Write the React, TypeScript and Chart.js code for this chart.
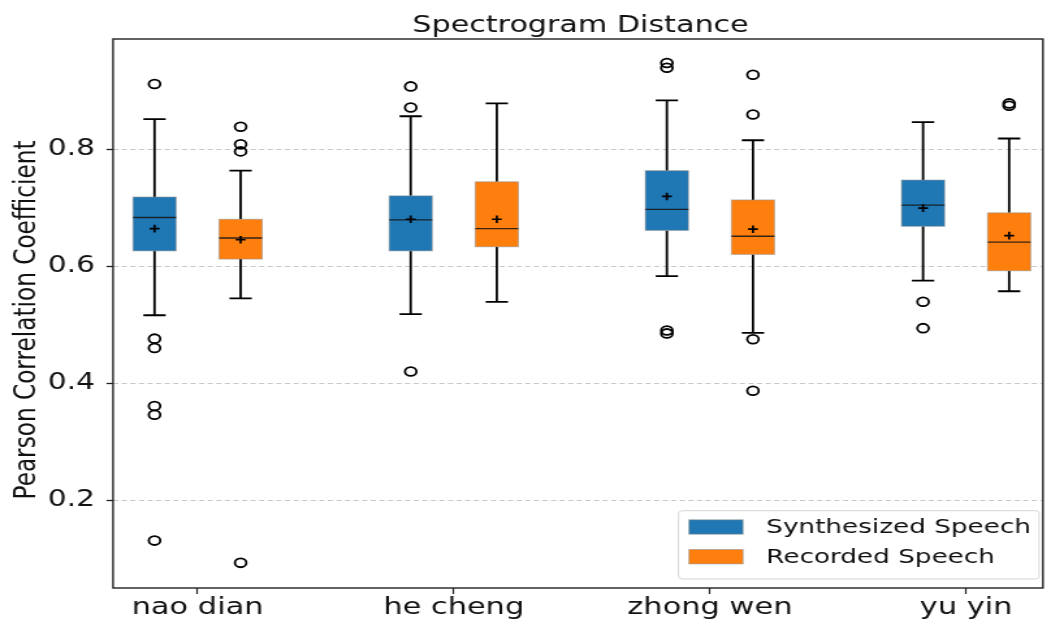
import React, { useEffect, useRef } from 'react';
import { Chart, registerables } from 'chart.js';

Chart.register(...registerables);

// ---------- data ----------
const categories = ['nao dian', 'he cheng', 'zhong wen', 'yu yin'];
const yTickValues = [0.2, 0.4, 0.6, 0.8];
const seriesNames = ['Synthesized Speech', 'Recorded Speech'];
const seriesColors = ['#1f77b4', '#ff7f0e'];

const synthWhiskerHigh = [0.851, 0.856, 0.883, 0.846];
const synthQ3 = [0.718, 0.72, 0.763, 0.747];
const synthMedian = [0.683, 0.679, 0.697, 0.704];
const synthMean = [0.664, 0.68, 0.719, 0.699];
const synthQ1 = [0.626, 0.626, 0.661, 0.668];
const synthWhiskerLow = [0.516, 0.518, 0.583, 0.575];
const synthOutliers = [
  [0.911, 0.476, 0.46, 0.361, 0.346, 0.131],
  [0.907, 0.871, 0.42],
  [0.947, 0.939, 0.49, 0.485],
  [0.539, 0.494],
];

const recWhiskerHigh = [0.763, 0.878, 0.815, 0.818];
const recQ3 = [0.68, 0.744, 0.713, 0.691];
const recMedian = [0.648, 0.664, 0.651, 0.641];
const recMean = [0.645, 0.68, 0.663, 0.652];
const recQ1 = [0.612, 0.633, 0.62, 0.592];
const recWhiskerLow = [0.545, 0.539, 0.486, 0.557];
const recOutliers = [
  [0.838, 0.808, 0.796, 0.093],
  [],
  [0.927, 0.859, 0.475, 0.387],
  [0.878, 0.874],
];

// ---------- layout / style constants ----------
const CANVAS_W = 808;
const CANVAS_H = 623;
const CSS_W = 1051;
const CSS_H = 623;
const GROUP_OFFSET = 0.168;
const BOX_WIDTH = 0.168;
const CAP_WIDTH = 0.087;
const FONT = "'DejaVu Sans', sans-serif";

export default function App() {
  const canvasRef = useRef<HTMLCanvasElement | null>(null);

  useEffect(() => {
    document.body.style.margin = '0';
    const canvas = canvasRef.current;
    if (!canvas) return;

    const series = [
      {
        name: seriesNames[0], color: seriesColors[0], offset: -GROUP_OFFSET,
        hi: synthWhiskerHigh, q3: synthQ3, med: synthMedian, mean: synthMean,
        q1: synthQ1, lo: synthWhiskerLow, out: synthOutliers,
      },
      {
        name: seriesNames[1], color: seriesColors[1], offset: GROUP_OFFSET,
        hi: recWhiskerHigh, q3: recQ3, med: recMedian, mean: recMean,
        q1: recQ1, lo: recWhiskerLow, out: recOutliers,
      },
    ];

    const outlierData = (s: any) => {
      const pts: { x: number; y: number }[] = [];
      s.out.forEach((arr: number[], i: number) => arr.forEach((v) => pts.push({ x: i + s.offset, y: v })));
      return pts;
    };
    const meanData = (s: any) => s.mean.map((v: number, i: number) => ({ x: i + s.offset, y: v }));

    const boxPlugin = {
      id: 'boxPlot',
      beforeDatasetsDraw(chart: any) {
        const ctx = chart.ctx as CanvasRenderingContext2D;
        const xs = chart.scales.x;
        const ys = chart.scales.y;
        ctx.save();
        series.forEach((s) => {
          categories.forEach((_, i) => {
            const c = i + s.offset;
            const xc = xs.getPixelForValue(c);
            const xl = xs.getPixelForValue(c - BOX_WIDTH / 2);
            const xr = xs.getPixelForValue(c + BOX_WIDTH / 2);
            const cl = xs.getPixelForValue(c - CAP_WIDTH / 2);
            const cr = xs.getPixelForValue(c + CAP_WIDTH / 2);
            const yHi = ys.getPixelForValue(s.hi[i]);
            const yQ3 = ys.getPixelForValue(s.q3[i]);
            const yMed = ys.getPixelForValue(s.med[i]);
            const yQ1 = ys.getPixelForValue(s.q1[i]);
            const yLo = ys.getPixelForValue(s.lo[i]);
            // whiskers + caps
            ctx.strokeStyle = '#000';
            ctx.lineWidth = 1.8;
            ctx.beginPath();
            ctx.moveTo(xc, yQ3); ctx.lineTo(xc, yHi);
            ctx.moveTo(xc, yQ1); ctx.lineTo(xc, yLo);
            ctx.moveTo(cl, yHi); ctx.lineTo(cr, yHi);
            ctx.moveTo(cl, yLo); ctx.lineTo(cr, yLo);
            ctx.stroke();
            // box
            ctx.fillStyle = s.color;
            ctx.fillRect(xl, yQ3, xr - xl, yQ1 - yQ3);
            ctx.strokeStyle = 'rgba(140,140,140,0.55)';
            ctx.lineWidth = 1;
            ctx.strokeRect(xl, yQ3, xr - xl, yQ1 - yQ3);
            // median
            ctx.strokeStyle = 'rgba(20,20,20,0.85)';
            ctx.lineWidth = 1.3;
            ctx.beginPath();
            ctx.moveTo(xl, yMed); ctx.lineTo(xr, yMed);
            ctx.stroke();
          });
        });
        ctx.restore();
      },
      afterDraw(chart: any) {
        const ctx = chart.ctx as CanvasRenderingContext2D;
        const a = chart.chartArea;
        ctx.save();
        // frame
        ctx.strokeStyle = '#222';
        ctx.lineWidth = 1.4;
        ctx.strokeRect(a.left, a.top, a.right - a.left, a.bottom - a.top);
        // title
        ctx.fillStyle = '#111';
        ctx.font = `23.2px ${FONT}`;
        ctx.textAlign = 'center';
        ctx.textBaseline = 'alphabetic';
        ctx.fillText('Spectrogram Distance', (a.left + a.right) / 2 + 2, 31.5);
        // y label
        ctx.save();
        ctx.translate(27, 320);
        ctx.rotate(-Math.PI / 2);
        ctx.font = `23.2px ${FONT}`;
        ctx.fillText('Pearson Correlation Coefficient', 0, 0);
        ctx.restore();
        // legend
        const lw = 277.3, lh = 68.3;
        const lx = a.right - 2.9 - lw;
        const ly = a.bottom - 9 - lh;
        ctx.fillStyle = 'rgba(255,255,255,0.85)';
        ctx.strokeStyle = '#d6d6d6';
        ctx.lineWidth = 1;
        ctx.beginPath();
        (ctx as any).roundRect(lx, ly, lw, lh, 3);
        ctx.fill();
        ctx.stroke();
        ctx.font = `20.2px ${FONT}`;
        ctx.textAlign = 'left';
        ctx.textBaseline = 'middle';
        series.forEach((s, k) => {
          const rowY = ly + 16.3 + k * 29.7;
          ctx.fillStyle = s.color;
          ctx.fillRect(lx + 8.1, rowY - 7.2, 41.5, 14.4);
          ctx.strokeStyle = 'rgba(140,140,140,0.55)';
          ctx.strokeRect(lx + 8.1, rowY - 7.2, 41.5, 14.4);
          ctx.fillStyle = '#111';
          ctx.fillText(s.name, lx + 67.5, rowY + 1);
        });
        ctx.restore();
      },
    };

    const chart = new Chart(canvas, {
      type: 'scatter',
      data: {
        datasets: [
          ...series.map((s) => ({
            label: s.name + ' outliers',
            data: outlierData(s),
            pointStyle: 'circle',
            pointRadius: 4.4,
            pointBorderWidth: 1.8,
            pointBorderColor: '#000',
            pointBackgroundColor: 'rgba(0,0,0,0)',
          })),
          ...series.map((s) => ({
            label: s.name + ' mean',
            data: meanData(s),
            pointStyle: 'cross',
            pointRadius: 3.8,
            pointBorderWidth: 1.7,
            pointBorderColor: '#000',
            pointBackgroundColor: '#000',
          })),
        ],
      },
      options: {
        responsive: false,
        maintainAspectRatio: false,
        devicePixelRatio: 1,
        animation: false,
        events: [],
        layout: { padding: { top: 39, right: 2.6, left: 0, bottom: 0 } },
        plugins: {
          legend: { display: false },
          title: { display: false },
          tooltip: { enabled: false },
        },
        scales: {
          x: {
            type: 'linear',
            min: -0.33,
            max: 3.3,
            afterBuildTicks: (scale: any) => {
              scale.ticks = categories.map((_, i) => ({ value: i }));
            },
            afterFit: (scale: any) => {
              scale.height = 35;
            },
            ticks: {
              callback: (v: any) => categories[Math.round(Number(v))] ?? '',
              font: { family: FONT, size: 23.4 },
              color: '#111',
              padding: 0,
              maxRotation: 0,
              autoSkip: false,
            },
            grid: {
              drawOnChartArea: false,
              drawTicks: true,
              tickLength: 6,
              tickColor: '#222',
              tickWidth: 1.2,
            },
            border: { display: false },
          },
          y: {
            type: 'linear',
            min: 0.05,
            max: 0.988,
            afterBuildTicks: (scale: any) => {
              scale.ticks = yTickValues.map((v) => ({ value: v }));
            },
            afterFit: (scale: any) => {
              scale.width = 86.9;
            },
            ticks: {
              callback: (v: any) => Number(v).toFixed(1),
              font: { family: FONT, size: 22.8 },
              color: '#111',
              padding: 9,
            },
            grid: {
              drawOnChartArea: true,
              color: '#c8c8c8',
              lineWidth: 1,
              drawTicks: true,
              tickLength: 5,
              tickColor: '#222',
              tickWidth: 1.3,
              tickBorderDash: [],
            } as any,
            border: { display: false, dash: [4, 2.6] },
          },
        },
      } as any,
      plugins: [boxPlugin],
    });

    return () => chart.destroy();
  }, []);

  return (
    <div style={{ position: 'fixed', left: 0, top: 0, width: CSS_W, height: CSS_H, background: '#fff' }}>
      <canvas
        ref={canvasRef}
        width={CANVAS_W}
        height={CANVAS_H}
        style={{ width: `${CSS_W}px`, height: `${CSS_H}px`, display: 'block' }}
      />
    </div>
  );
}
